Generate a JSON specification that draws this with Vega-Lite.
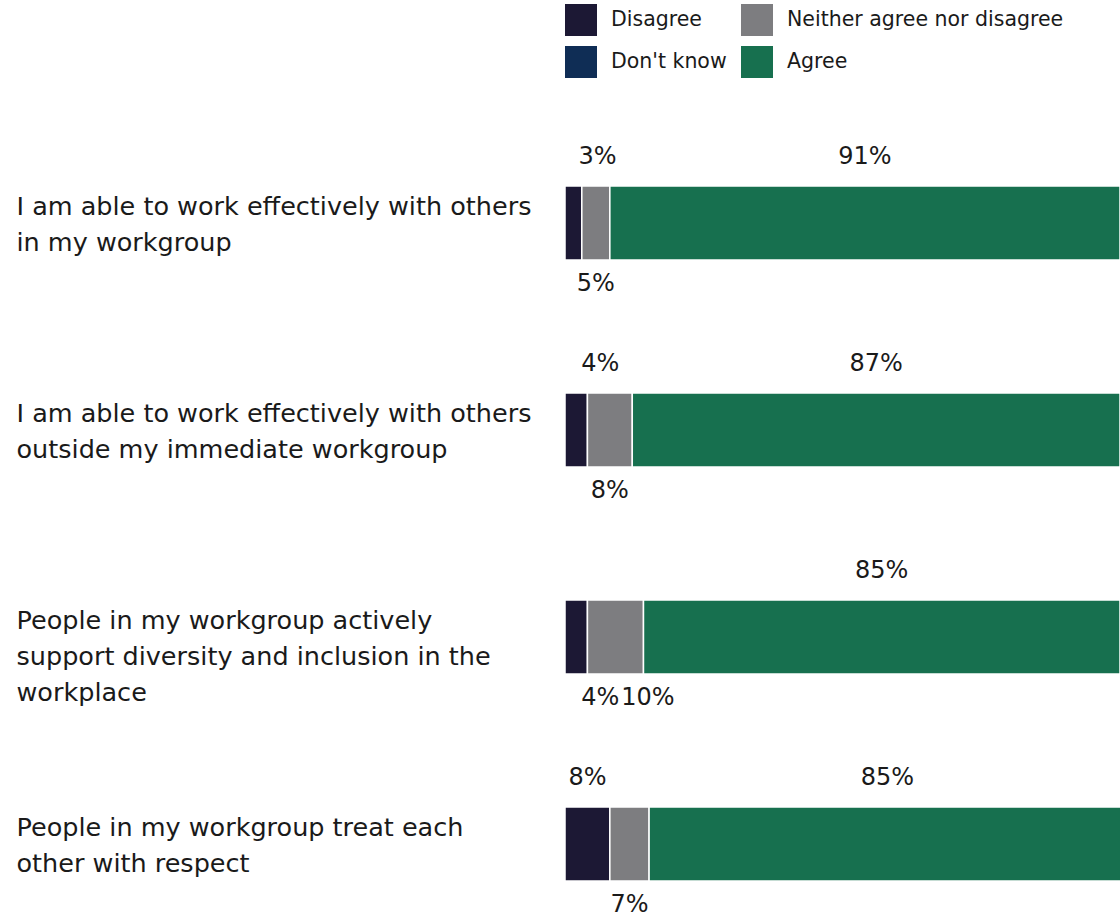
{
  "$schema": "https://vega.github.io/schema/vega-lite/v6.json",
  "width": 555,
  "height": 780,
  "autosize": "none",
  "padding": {"left": 565, "top": 120, "right": 0, "bottom": 17},
  "background": "white",
  "config": {"font": "DejaVu Sans", "view": {"stroke": null}},
  "data": {
    "values": [
      {"question": "I am able to work effectively with others in my workgroup", "category": "Disagree", "value": 3},
      {"question": "I am able to work effectively with others in my workgroup", "category": "Neither agree nor disagree", "value": 5},
      {"question": "I am able to work effectively with others in my workgroup", "category": "Agree", "value": 91},
      {"question": "I am able to work effectively with others outside my immediate workgroup", "category": "Disagree", "value": 4},
      {"question": "I am able to work effectively with others outside my immediate workgroup", "category": "Neither agree nor disagree", "value": 8},
      {"question": "I am able to work effectively with others outside my immediate workgroup", "category": "Agree", "value": 87},
      {"question": "People in my workgroup actively support diversity and inclusion in the workplace", "category": "Disagree", "value": 4},
      {"question": "People in my workgroup actively support diversity and inclusion in the workplace", "category": "Neither agree nor disagree", "value": 10},
      {"question": "People in my workgroup actively support diversity and inclusion in the workplace", "category": "Agree", "value": 85},
      {"question": "People in my workgroup treat each other with respect", "category": "Disagree", "value": 8},
      {"question": "People in my workgroup treat each other with respect", "category": "Neither agree nor disagree", "value": 7},
      {"question": "People in my workgroup treat each other with respect", "category": "Agree", "value": 85}
    ]
  },
  "transform": [
    {"calculate": "indexof(['Disagree','Neither agree nor disagree','Agree'], datum.category)", "as": "ord"},
    {"stack": "value", "groupby": ["question"], "sort": [{"field": "ord", "order": "ascending"}], "as": ["x0", "x1"]},
    {"calculate": "(datum.x0 + datum.x1) / 2", "as": "mid"},
    {"calculate": "datum.category == 'Disagree' && datum.value < 6 ? datum.mid + 4.3 : (datum.category == 'Neither agree nor disagree' && datum.value >= 10 ? datum.mid + 5.8 : datum.mid)", "as": "labelPos"},
    {"calculate": "datum.category == 'Neither agree nor disagree' || (datum.category == 'Disagree' && indexof(datum.question, 'actively') >= 0) ? 'below' : 'above'", "as": "side"},
    {"calculate": "datum.value + '%'", "as": "label"}
  ],
  "encoding": {
    "y": {
      "field": "question",
      "type": "nominal",
      "sort": [
        "I am able to work effectively with others in my workgroup",
        "I am able to work effectively with others outside my immediate workgroup",
        "People in my workgroup actively support diversity and inclusion in the workplace",
        "People in my workgroup treat each other with respect"
      ],
      "scale": {"paddingInner": 0.6425, "paddingOuter": 0.2053, "align": 0.776},
      "axis": {
        "title": null,
        "domain": false,
        "ticks": false,
        "tickSize": 0,
        "labelAlign": "left",
        "labelPadding": 549,
        "labelFontSize": 25.5,
        "labelColor": "#1a1a1a",
        "labelBaseline": "alphabetic",
        "labelOffset": -8,
        "labelLineHeight": 36,
        "labelLimit": 0,
        "labelExpr": "datum.label == 'I am able to work effectively with others in my workgroup' ? ['I am able to work effectively with others', 'in my workgroup'] : datum.label == 'I am able to work effectively with others outside my immediate workgroup' ? ['I am able to work effectively with others', 'outside my immediate workgroup'] : datum.label == 'People in my workgroup actively support diversity and inclusion in the workplace' ? ['People in my workgroup actively', 'support diversity and inclusion in the', 'workplace'] : ['People in my workgroup treat each', 'other with respect']"
      }
    }
  },
  "layer": [
    {
      "mark": {"type": "bar", "stroke": "white", "strokeWidth": 1.5, "clip": true},
      "encoding": {
        "x": {"field": "x0", "type": "quantitative", "scale": {"domain": [0, 99], "nice": false, "zero": false}, "axis": null},
        "x2": {"field": "x1"},
        "color": {
          "field": "category",
          "type": "nominal",
          "scale": {
            "domain": ["Disagree", "Neither agree nor disagree", "Don't know", "Agree"],
            "range": ["#1c1834", "#7d7d80", "#0f2d55", "#17704f"]
          },
          "legend": {
            "title": null,
            "orient": "none",
            "legendX": 0,
            "legendY": -116,
            "columns": 2,
            "direction": "horizontal",
            "symbolType": "square",
            "symbolSize": 1024,
            "symbolStrokeWidth": 0,
            "labelFontSize": 20.5,
            "labelOffset": 14,
            "labelLimit": 0,
            "labelColor": "#1a1a1a",
            "columnPadding": 14,
            "rowPadding": 10,
            "padding": 0
          }
        }
      }
    },
    {
      "transform": [{"filter": "datum.side == 'above'"}],
      "mark": {"type": "text", "fontSize": 24, "dy": -66, "baseline": "middle", "align": "center", "color": "#1a1a1a"},
      "encoding": {
        "x": {"field": "labelPos", "type": "quantitative"},
        "text": {"field": "label"}
      }
    },
    {
      "transform": [{"filter": "datum.side == 'below'"}],
      "mark": {"type": "text", "fontSize": 24, "dy": 61, "baseline": "middle", "align": "center", "color": "#1a1a1a"},
      "encoding": {
        "x": {"field": "labelPos", "type": "quantitative"},
        "text": {"field": "label"}
      }
    }
  ]
}
